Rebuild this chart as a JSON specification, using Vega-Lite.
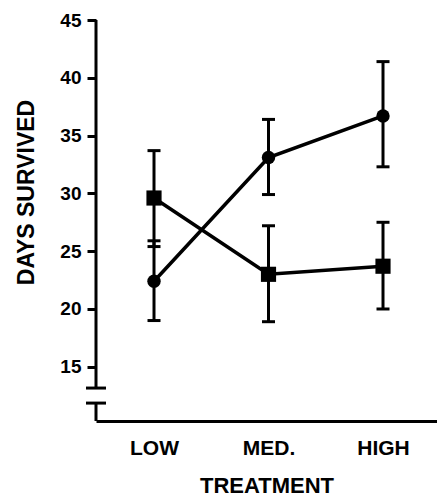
{
  "$schema": "https://vega.github.io/schema/vega-lite/v6.json",
  "width": 341,
  "height": 401,
  "autosize": "none",
  "padding": {"left": 96, "top": 20, "right": 0, "bottom": 78},
  "background": "white",
  "config": {
    "view": {"stroke": null},
    "axis": {"labelFont": "Liberation Sans", "titleFont": "Liberation Sans", "labelFontWeight": "bold", "titleFontWeight": "bold", "labelColor": "black", "titleColor": "black", "grid": false}
  },
  "datasets": {
    "survival": [
      {"treatment": "LOW", "order": 1, "group": "circle", "mean": 22.4, "lo": 19.0, "hi": 25.9},
      {"treatment": "MED.", "order": 2, "group": "circle", "mean": 33.1, "lo": 29.9, "hi": 36.4},
      {"treatment": "HIGH", "order": 3, "group": "circle", "mean": 36.7, "lo": 32.3, "hi": 41.4},
      {"treatment": "LOW", "order": 1, "group": "square", "mean": 29.6, "lo": 25.4, "hi": 33.7},
      {"treatment": "MED.", "order": 2, "group": "square", "mean": 23.0, "lo": 18.9, "hi": 27.2},
      {"treatment": "HIGH", "order": 3, "group": "square", "mean": 23.7, "lo": 20.0, "hi": 27.5}
    ],
    "axisline": [
      {"from": 13.16, "to": 45},
      {"from": 10.31, "to": 11.86}
    ],
    "axisbreak": [
      {"at": 13.16},
      {"at": 11.86}
    ]
  },
  "layer": [
    {
      "data": {"name": "axisline"},
      "mark": {"type": "rule", "strokeWidth": 3, "color": "black"},
      "encoding": {
        "x": {"datum": 0.4934, "type": "quantitative"},
        "y": {"field": "from", "type": "quantitative"},
        "y2": {"field": "to"}
      }
    },
    {
      "data": {"name": "axisbreak"},
      "mark": {"type": "tick", "orient": "horizontal", "size": 20, "thickness": 3, "color": "black", "opacity": 1},
      "encoding": {
        "x": {"datum": 0.4934, "type": "quantitative"},
        "y": {"field": "at", "type": "quantitative"}
      }
    },
    {
      "data": {"name": "survival"},
      "mark": {"type": "rule", "strokeWidth": 3, "color": "black"},
      "encoding": {
        "x": {"field": "order", "type": "quantitative"},
        "y": {"field": "lo", "type": "quantitative"},
        "y2": {"field": "hi"}
      }
    },
    {
      "data": {"name": "survival"},
      "mark": {"type": "tick", "orient": "horizontal", "size": 13, "thickness": 3, "color": "black", "opacity": 1},
      "encoding": {
        "x": {"field": "order", "type": "quantitative"},
        "y": {"field": "lo", "type": "quantitative"}
      }
    },
    {
      "data": {"name": "survival"},
      "mark": {"type": "tick", "orient": "horizontal", "size": 13, "thickness": 3, "color": "black", "opacity": 1},
      "encoding": {
        "x": {"field": "order", "type": "quantitative"},
        "y": {"field": "hi", "type": "quantitative"}
      }
    },
    {
      "data": {"name": "survival"},
      "mark": {"type": "line", "strokeWidth": 3.5, "color": "black"},
      "encoding": {
        "x": {"field": "order", "type": "quantitative"},
        "y": {"field": "mean", "type": "quantitative"},
        "detail": {"field": "group"}
      }
    },
    {
      "data": {"name": "survival"},
      "mark": {"type": "point", "filled": true, "color": "black", "opacity": 1},
      "encoding": {
        "x": {
          "field": "order", "type": "quantitative",
          "scale": {"domain": [0.4934, 3.4716], "nice": false, "zero": false},
          "axis": {
            "title": "TREATMENT", "values": [1, 2, 3],
            "labelExpr": "datum.value == 1 ? 'LOW' : datum.value == 2 ? 'MED.' : 'HIGH'",
            "ticks": false, "tickSize": 0, "labelPadding": 33, "labelBaseline": "alphabetic", "labelFontSize": 21, "labelFontWeight": "bold",
            "domain": true, "domainColor": "black", "domainWidth": 3,
            "titleFontSize": 22, "titleY": 71, "titleBaseline": "alphabetic"
          }
        },
        "y": {
          "field": "mean", "type": "quantitative",
          "scale": {"domain": [10.31, 45], "nice": false, "zero": false},
          "axis": {
            "title": "DAYS SURVIVED", "values": [15, 20, 25, 30, 35, 40, 45],
            "domain": false, "ticks": true, "tickColor": "black", "tickWidth": 3, "tickSize": 9,
            "labelPadding": 6, "labelFontSize": 19, "labelFontWeight": "bold", "labelBaseline": "middle",
            "titleFontSize": 23, "titleAngle": -90, "titleX": -70, "titleY": 172, "titleBaseline": "middle", "titleAlign": "center"
          }
        },
        "shape": {"field": "group", "type": "nominal", "scale": {"domain": ["circle", "square"], "range": ["circle", "square"]}, "legend": null},
        "size": {"field": "group", "type": "nominal", "scale": {"domain": ["circle", "square"], "range": [180, 230]}, "legend": null}
      }
    }
  ]
}
